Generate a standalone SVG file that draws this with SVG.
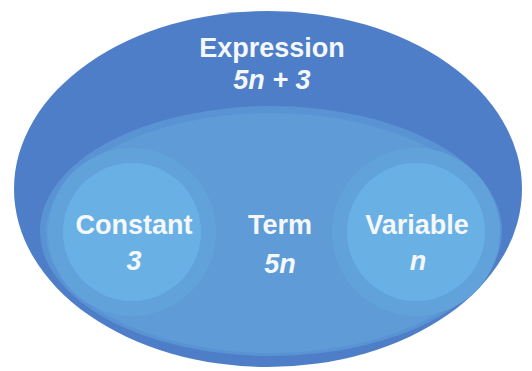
<svg xmlns="http://www.w3.org/2000/svg" width="532" height="371" viewBox="0 0 532 371">
<style>
.lbl{font-family:"Liberation Sans",Arial,sans-serif;font-weight:bold;fill:#f4f8fc;text-anchor:middle;font-size:27px}
.math{font-style:italic}
</style>
<rect width="532" height="371" fill="#ffffff"/>
<g id="expression">
<ellipse cx="268" cy="189" rx="254" ry="178" fill="#4e7ec7"/>
<text class="lbl" x="272" y="57">Expression</text>
<text class="lbl math" x="272" y="89">5n + 3</text>
</g>
<g id="term">
<ellipse cx="271" cy="231" rx="231" ry="125" fill="#5a93d4"/>
<ellipse cx="271" cy="233" rx="225" ry="120" fill="#5e9bd7"/>
<text class="lbl" x="280" y="234">Term</text>
<text class="lbl math" x="280" y="273">5n</text>
</g>
<g id="constant">
<circle cx="132" cy="232" r="84" fill="#61a2db"/>
<circle cx="132" cy="232" r="69" fill="#69b0e4"/>
<text class="lbl" x="134" y="234">Constant</text>
<text class="lbl math" x="134" y="270">3</text>
</g>
<g id="variable">
<circle cx="416" cy="232" r="84" fill="#61a2db"/>
<circle cx="416" cy="232" r="69" fill="#69b0e4"/>
<text class="lbl" x="417" y="234">Variable</text>
<text class="lbl math" x="418" y="270">n</text>
</g>
<g id="connectors"></g>
</svg>
